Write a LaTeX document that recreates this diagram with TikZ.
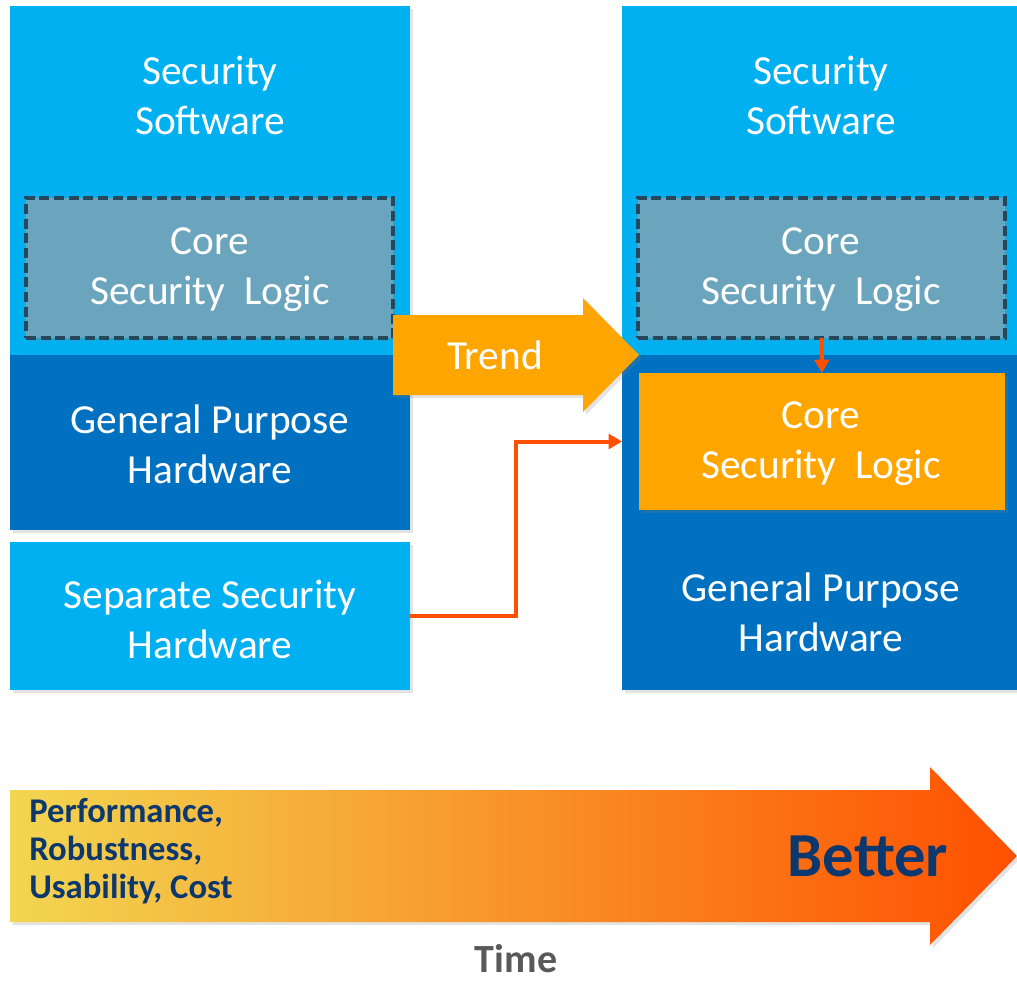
\documentclass[tikz,border=0pt]{standalone}
\usepackage{fontspec}
\setmainfont{Carlito}
\usetikzlibrary{fit,shadows,arrows.meta,calc}
\definecolor{lightblue}{RGB}{0,176,240}
\definecolor{darkblue}{RGB}{0,112,192}
\definecolor{coregray}{RGB}{106,165,189}
\definecolor{dashcol}{RGB}{38,72,92}
\definecolor{orng}{RGB}{255,165,0}
\definecolor{redorng}{RGB}{255,80,0}
\definecolor{yel}{RGB}{242,214,82}
\definecolor{navy}{RGB}{12,56,110}
\definecolor{timegray}{RGB}{89,89,89}
\begin{document}
\begin{tikzpicture}[x=0.75pt,y=-0.75pt,
  shd/.style={drop shadow={opacity=0.22,shadow xshift=2.2pt,shadow yshift=-2.2pt}},
  lbl/.style={text=white,align=center,font=\fontsize{31}{37.5}\selectfont,inner sep=0pt},
  box/.style={inner sep=0pt,outer sep=0pt,shd},
  lightbox/.style={box,fill=lightblue},
  darkbox/.style={box,fill=darkblue},
  dashbox/.style={box,fill=coregray,draw=dashcol,line width=2.4pt,dash pattern=on 7.5pt off 3.5pt},
  orangebox/.style={box,fill=orng},
  conn/.style={draw=redorng,line width=3pt,-{Triangle[length=10pt,width=11pt]}},
  smalltxt/.style={text=navy,align=left,font=\bfseries\fontsize{26}{28.5}\selectfont,inner sep=0pt}
]
\useasboundingbox (0,0) rectangle (1017,983);

% ---------- left column ----------
\node[lightbox,fit={(10,6)(410,355)}] (ssL) {};
\node[lbl] (ssLt) at (210,95) {Security\\Software};
\node[dashbox,fit={(26,198)(393,338)}] (coreL) {};
\node[lbl] (coreLt) at (210,270) {Core\\Security~~Logic};
\node[darkbox,fit={(10,355)(410,530)}] (gpL) {};
\node[lbl] (gpLt) at (210,444) {General Purpose\\Hardware};
\node[lightbox,fit={(10,542)(410,690)}] (sep) {};
\node[lbl] (sept) at (210,619) {Separate Security\\Hardware};

% ---------- right column ----------
\node[lightbox,fit={(622,6)(1017,355)}] (ssR) {};
\node[lbl] (ssRt) at (821,95) {Security\\Software};
\node[dashbox,fit={(638,198)(1005,338)}] (coreR) {};
\node[lbl] (coreRt) at (821,270) {Core\\Security~~Logic};
\node[darkbox,fit={(622,355)(1017,690)}] (gpR) {};
\node[lbl] (gpRt) at (821,612) {General Purpose\\Hardware};
\node[orangebox,fit={(639,373)(1005,510)}] (coreO) {};
\node[lbl] (coreOt) at (821,444) {Core\\Security~~Logic};

% ---------- trend arrow ----------
\fill[orng,shd] (393,315) -- (583,315) -- (583,298) -- (639,355) -- (583,412) -- (583,395) -- (393,395) -- cycle;
\node[lbl] (trend) at (495,355) {Trend};

% ---------- connectors ----------
\draw[conn] (coreR.south) -- (coreO.north);
\draw[conn] (sep.east) -- ++(106,0) |- (gpR.west |- coreO.center);

% ---------- bottom arrow ----------
\path[left color=yel,middle color=orng,right color=redorng,shd]
  (10,790) -- (930,790) -- (930,767) -- (1017,856) -- (930,945) -- (930,922) -- (10,922) -- cycle;
\node[smalltxt,anchor=west] (perf) at (29,851) {Performance,\\Robustness,\\Usability, Cost};
\node[text=navy,font=\bfseries\fontsize{47}{56}\selectfont,inner sep=0pt] (better) at (868,856) {Better};
\node[text=timegray,font=\bfseries\fontsize{30}{36}\selectfont,inner sep=0pt] (time) at (516,959) {Time};
\end{tikzpicture}
\end{document}
